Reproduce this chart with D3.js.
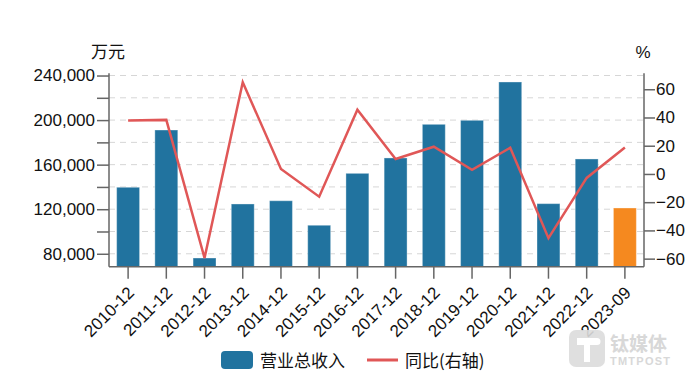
<!DOCTYPE html>
<html><head><meta charset="utf-8">
<script src="https://cdn.jsdelivr.net/npm/d3@7"></script>
<style>
body{margin:0;background:#fff;}
svg{display:block;}
text{font-family:"Liberation Sans",Arial,"Noto Sans CJK SC",sans-serif;fill:#111;}
</style></head><body>
<svg id="c" width="700" height="381"></svg>
<script>
const categories = ["2010-12","2011-12","2012-12","2013-12","2014-12","2015-12","2016-12","2017-12","2018-12","2019-12","2020-12","2021-12","2022-12","2023-09"];
const revenue = [139700,191100,76200,124700,127600,105600,152200,166000,196200,199800,234200,125000,165100,121100];
const yoy = [37.8,38.3,-59.5,65.0,3.5,-16.1,45.5,10.6,19.3,3.0,18.6,-45.5,-2.8,18.8];
const leftTicks = [80000,100000,120000,140000,160000,180000,200000,220000,240000];
const leftLabels = [80000,120000,160000,200000,240000];
const rightTicks = [-60,-40,-20,0,20,40,60];
const legendLabels = ["营业总收入","同比(右轴)"];
const axisTitles = ["万元","%"];

const svg = d3.select("#c");
const L = 109, R = 644, T = 73.3, B = 266.7;
const blue = "#21739f", orange = "#f5891f", red = "#e05757";
const fs = "17px";

const x = d3.scaleBand().domain(categories).range([L, R]).paddingInner(0.4).paddingOuter(0.2);
const yL = d3.scaleLinear().domain([68400, 242000]).range([B, T]);
const yR = d3.scaleLinear().domain([-65.7, 71.3]).range([B, T]);

// grid
svg.append("g").selectAll("line").data(leftTicks).join("line")
  .attr("x1", L).attr("x2", R).attr("y1", d => yL(d)).attr("y2", d => yL(d))
  .attr("stroke", "#d6d6d6").attr("stroke-width", 1).attr("stroke-dasharray", "6,5");

// bars
svg.append("g").selectAll("rect").data(categories).join("rect")
  .attr("x", d => x(d)).attr("width", x.bandwidth())
  .attr("y", (d, i) => yL(revenue[i])).attr("height", (d, i) => B - yL(revenue[i]))
  .attr("fill", (d, i) => i === categories.length - 1 ? orange : blue)
  .attr("stroke", "rgba(255,255,255,0.35)").attr("stroke-width", 1);

// line
const line = d3.line().x((d, i) => x(categories[i]) + x.bandwidth() / 2).y(d => yR(d));
svg.append("path").datum(yoy).attr("d", line)
  .attr("fill", "none").attr("stroke", red).attr("stroke-width", 2.5).attr("stroke-linejoin", "miter");

// left axis
const gL = svg.append("g").attr("transform", `translate(${L},0)`)
  .call(d3.axisLeft(yL).tickValues(leftTicks).tickSize(12).tickPadding(2)
    .tickFormat(d => leftLabels.includes(d) ? d3.format(",")(d) : ""));
gL.select(".domain").attr("d", `M0,${T}V${B}`);
// right axis
const gR = svg.append("g").attr("transform", `translate(${R},0)`)
  .call(d3.axisRight(yR).tickValues(rightTicks).tickSize(11).tickPadding(1).tickFormat(d3.format("d")));
gR.select(".domain").attr("d", `M0,${T}V${B}`);
// bottom axis
const gB = svg.append("g").attr("transform", `translate(0,${B})`)
  .call(d3.axisBottom(x).tickSize(12).tickPadding(2));
gB.select(".domain").attr("d", `M${L},0H${R}`);
gB.selectAll("text").attr("text-anchor", "end").attr("dy", "0.35em")
  .attr("transform", "translate(-7,13) rotate(-45)");

[gL, gR, gB].forEach(g => {
  g.select(".domain").attr("stroke", "#666").attr("stroke-width", 1.5);
  g.selectAll(".tick line").attr("stroke", "#666").attr("stroke-width", 1.5);
  g.selectAll("text").style("font-size", fs).style("fill", "#111")
    .style("font-family", '"Liberation Sans",Arial,sans-serif');
});

// axis titles
svg.append("text").attr("x", 108).attr("y", 58).attr("text-anchor", "middle")
  .style("font-size", "17px").style("font-family", '"Noto Sans CJK SC",sans-serif').text(axisTitles[0]);
svg.append("text").attr("x", 643).attr("y", 58).attr("text-anchor", "middle")
  .style("font-size", "17px").text(axisTitles[1]);

// legend
svg.append("rect").attr("x", 221).attr("y", 351).attr("width", 32).attr("height", 18).attr("rx", 4).attr("fill", blue);
svg.append("text").attr("x", 260).attr("y", 361).attr("dy", "0.35em")
  .style("font-size", "17px").style("font-family", '"Noto Sans CJK SC",sans-serif').text(legendLabels[0]);
svg.append("line").attr("x1", 367).attr("x2", 398).attr("y1", 360).attr("y2", 360)
  .attr("stroke", red).attr("stroke-width", 3);
svg.append("text").attr("x", 405).attr("y", 361).attr("dy", "0.35em")
  .style("font-size", "17px").style("font-family", '"Noto Sans CJK SC",sans-serif').text(legendLabels[1]);

// watermark
const wm = svg.append("g").attr("opacity", 0.9);
wm.append("rect").attr("x", 569).attr("y", 330).attr("width", 36).attr("height", 37).attr("rx", 7).attr("fill", "#dcdcdc");
wm.append("path").attr("d", "M577,338 H597 A3,3 0 0 1 597,345 H590 V362 H584 V345 H577 Z").attr("fill", "#fff");
wm.append("text").attr("x", 610).attr("y", 351).style("font-size", "19px").style("fill", "#d4d4d4")
  .style("font-family", '"Noto Sans CJK SC",sans-serif').style("font-weight", "bold").text("钛媒体");
wm.append("text").attr("x", 610).attr("y", 364.5).attr("textLength", 60).style("font-size", "11px").style("fill", "#d4d4d4")
  .style("font-weight", "bold").text("TMTPOST");
</script>
</body></html>
